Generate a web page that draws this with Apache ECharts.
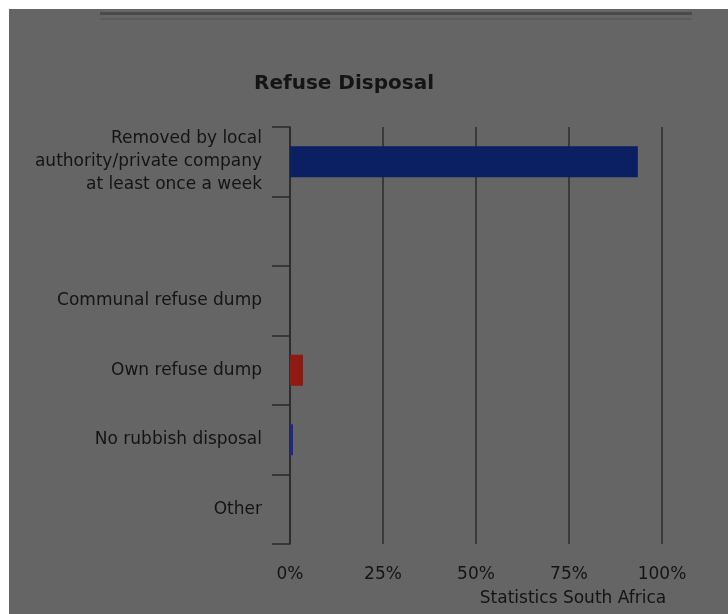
<!DOCTYPE html>
<html>
<head>
<meta charset="utf-8">
<script src="https://cdn.jsdelivr.net/npm/echarts@6/dist/echarts.min.js"></script>
<style>
  html, body { margin: 0; padding: 0; background: #ffffff; }
  #chart { width: 728px; height: 614px; }
</style>
</head>
<body>
<div id="chart"></div>
<script>
// Refuse disposal: share of households by method (%)
const categories = [
  'Removed by local\nauthority/private company\nat least once a week',
  '',
  'Communal refuse dump',
  'Own refuse dump',
  'No rubbish disposal',
  'Other'
];
const shares = [93.5, 0, 0, 3.5, 0.8, 0];
const xTicks = [0, 25, 50, 75, 100];

const titleText = 'Refuse Disposal';
const sourceText = 'Statistics South Africa';

// bar fill per category
const barColors = ['#0b1f63', '#0b1f63', '#0b1f63', '#8e1a12', '#1b2a86', '#0b1f63'];

const ink = '#141414';
const chart = echarts.init(document.getElementById('chart'), null, { renderer: 'canvas' });

chart.setOption({
  backgroundColor: '#656565',
  animation: false,
  title: {
    text: titleText,
    left: 339,
    top: 69,
    textAlign: 'center',
    textStyle: { fontFamily: 'DejaVu Sans', fontWeight: 'bold', fontSize: 20, color: ink }
  },
  grid: { left: 290, right: 66, top: 127, bottom: 70, containLabel: false },
  xAxis: {
    type: 'value',
    min: xTicks[0],
    max: xTicks[xTicks.length - 1],
    interval: xTicks[1] - xTicks[0],
    axisLine: { show: false },
    axisTick: { show: false },
    splitLine: { show: true, lineStyle: { color: '#3a3a3a', width: 2 } },
    axisLabel: {
      formatter: '{value}%',
      margin: 22,
      fontFamily: 'DejaVu Sans',
      fontSize: 17,
      color: ink
    }
  },
  yAxis: {
    type: 'category',
    inverse: true,
    data: categories,
    axisLine: { show: true, lineStyle: { color: '#2a2a2a', width: 1.5 } },
    axisTick: { show: true, length: 18, lineStyle: { color: '#2a2a2a', width: 1.5 } },
    splitLine: { show: false },
    axisLabel: {
      margin: 28,
      fontFamily: 'DejaVu Sans',
      fontSize: 17,
      lineHeight: 23,
      color: ink,
      align: 'right'
    }
  },
  series: [{
    type: 'bar',
    barWidth: 31,
    data: shares.map((v, i) => ({ value: v, itemStyle: { color: barColors[i] } }))
  }],
  graphic: [
    // white page margin at top and left
    { type: 'rect', left: 0, top: 0, shape: { width: 728, height: 9 }, style: { fill: '#ffffff' }, silent: true },
    { type: 'rect', left: 0, top: 0, shape: { width: 9, height: 614 }, style: { fill: '#ffffff' }, silent: true },
    // shadow edge of the panel above
    { type: 'rect', left: 100, top: 12, shape: { width: 592, height: 3 }, style: { fill: '#4a4a4a' }, silent: true },
    { type: 'rect', left: 100, top: 18, shape: { width: 592, height: 2 }, style: { fill: '#5c5c5c' }, silent: true },
    {
      type: 'text',
      x: 573,
      y: 599,
      style: {
        text: sourceText, fontFamily: 'DejaVu Sans', fontSize: 17, fill: ink,
        textAlign: 'center', textVerticalAlign: 'middle'
      }
    }
  ]
});
</script>
</body>
</html>
